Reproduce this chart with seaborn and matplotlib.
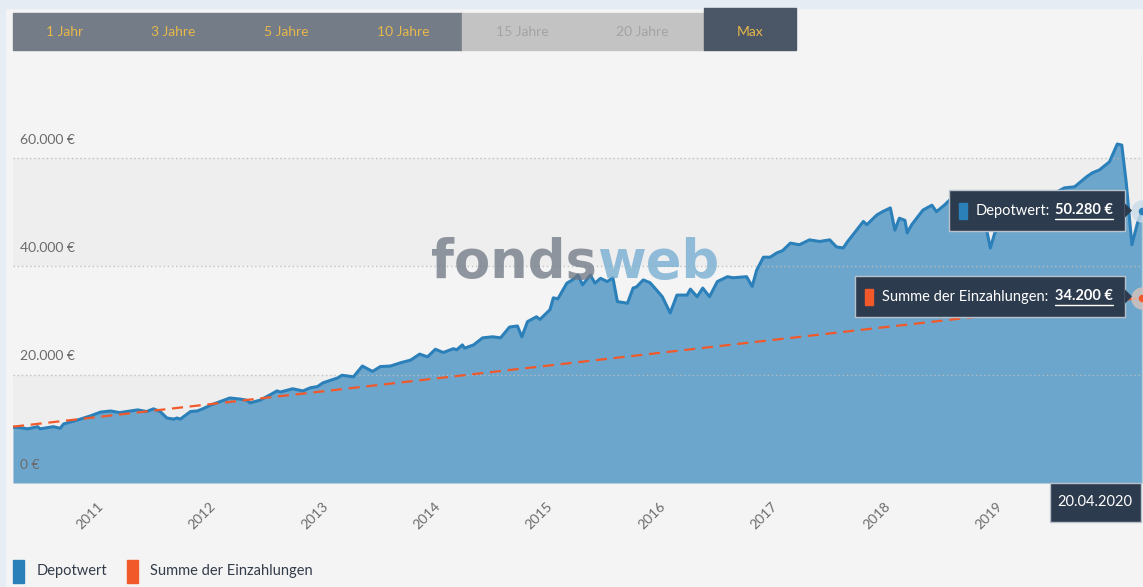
import numpy as np
import pandas as pd
import matplotlib
matplotlib.use("Agg")
import matplotlib.pyplot as plt
import seaborn as sns
from matplotlib.patches import Rectangle, Polygon
from matplotlib.lines import Line2D

# Depotwert (Zeit als Dezimaljahr, Wert in €)
jahr = [2010.25, 2010.32, 2010.38, 2010.47, 2010.49, 2010.61, 2010.67, 2010.70, 2010.82, 2010.94,
        2011.03, 2011.12, 2011.20, 2011.36, 2011.44, 2011.50, 2011.56, 2011.62, 2011.68, 2011.71,
        2011.74, 2011.83, 2011.89, 2011.94, 2012.01, 2012.09, 2012.18, 2012.27, 2012.33, 2012.36,
        2012.45, 2012.54, 2012.60, 2012.63, 2012.74, 2012.83, 2012.90, 2012.96, 2013.01, 2013.14,
        2013.18, 2013.28, 2013.36, 2013.45, 2013.52, 2013.61, 2013.70, 2013.79, 2013.87, 2013.94,
        2014.01, 2014.08, 2014.17, 2014.20, 2014.25, 2014.27, 2014.35, 2014.43, 2014.52, 2014.59,
        2014.67, 2014.74, 2014.78, 2014.83, 2014.91, 2014.94, 2015.03, 2015.06, 2015.10, 2015.18,
        2015.23, 2015.28, 2015.32, 2015.39, 2015.43, 2015.48, 2015.54, 2015.59, 2015.63, 2015.72,
        2015.77, 2015.80, 2015.86, 2015.92, 2015.98, 2016.03, 2016.10, 2016.16, 2016.25, 2016.28,
        2016.34, 2016.39, 2016.45, 2016.52, 2016.61, 2016.66, 2016.72, 2016.78, 2016.83, 2016.87,
        2016.93, 2016.99, 2017.05, 2017.10, 2017.17, 2017.25, 2017.34, 2017.43, 2017.52, 2017.58,
        2017.64, 2017.68, 2017.76, 2017.82, 2017.85, 2017.94, 2017.99, 2018.06, 2018.10, 2018.14,
        2018.19, 2018.21, 2018.25, 2018.35, 2018.43, 2018.47, 2018.54, 2018.59, 2018.68, 2018.77,
        2018.86, 2018.90, 2018.95, 2018.99, 2019.08, 2019.17, 2019.26, 2019.35, 2019.43, 2019.52,
        2019.61, 2019.70, 2019.81, 2019.86, 2019.92, 2020.01, 2020.08, 2020.12, 2020.16, 2020.21,
        2020.26, 2020.30]
depotwert = [10300, 10200, 10000, 10400, 10000, 10400, 10100, 10900, 11600, 12400,
             13100, 13300, 13000, 13500, 13200, 13700, 13200, 12000, 11800, 12000,
             11800, 13200, 13300, 13700, 14400, 15000, 15700, 15500, 15300, 14800,
             15300, 16300, 17000, 16800, 17400, 17000, 17600, 17800, 18500, 19400,
             19900, 19600, 21600, 20600, 21500, 21600, 22200, 22700, 23800, 23300,
             24700, 24100, 24800, 24600, 25500, 24900, 25500, 26800, 27000, 26800,
             28800, 29000, 27000, 29800, 30700, 30200, 32000, 34200, 34000, 36900,
             37500, 38400, 36600, 38400, 36900, 37800, 37200, 37900, 33500, 33200,
             36000, 36200, 37500, 37000, 35600, 34400, 31400, 34700, 34700, 35800,
             34400, 36000, 34400, 37200, 38100, 37900, 38000, 38100, 36300, 39300,
             41700, 41700, 42500, 42900, 44300, 44000, 44900, 44600, 44900, 43600,
             43400, 44600, 46700, 48300, 47700, 49500, 50100, 50800, 46700, 48900,
             48500, 46200, 47700, 50400, 51300, 50100, 51300, 52300, 52000, 52500,
             51000, 48500, 43400, 46200, 48500, 50000, 51000, 51500, 52500, 53500,
             54500, 54700, 56600, 57300, 57800, 59300, 62600, 62400, 55400, 44000,
             48000, 50280]

# Summe der Einzahlungen
einzahl_jahr = [2010.25, 2011.25, 2012.25, 2013.25, 2014.25, 2015.25, 2016.25,
                2017.25, 2018.25, 2019.25, 2020.30]
einzahlungen = [10400, 12770, 15140, 17500, 19870, 22240, 24610,
                26980, 29340, 31710, 34200]

y_ticks = [0, 20000, 40000, 60000]
y_labels = ["0 €", "20.000 €", "40.000 €", "60.000 €"]
x_ticks = [2011, 2012, 2013, 2014, 2015, 2016, 2017, 2018, 2019]
zeitraum = ["1 Jahr", "3 Jahre", "5 Jahre", "10 Jahre", "15 Jahre", "20 Jahre", "Max"]
datum = "20.04.2020"
depot_text = "50.280 €"
summe_text = "34.200 €"

BLAU = "#2b80ba"
FLAECHE = "#6ca6cc"
ORANGE = "#f2592a"
DUNKEL = "#2d3b4e"

sns.set_style("white")
plt.rcParams["font.family"] = ["Lato", "DejaVu Sans"]

W, H = 1143, 587
fig = plt.figure(figsize=(W / 100, H / 100), dpi=100)
fig.patch.set_facecolor("#f4f4f4")


def px(x, y):
    return x / W, 1 - y / H


# Rahmen oben/links
fig.add_artist(Rectangle((0, 1 - 8 / H), 1, 8 / H, transform=fig.transFigure,
                         color="#e6ecf4", zorder=0))
fig.add_artist(Rectangle((0, 0), 5 / W, 1, transform=fig.transFigure,
                         color="#e6ecf4", zorder=0))

ax = fig.add_axes([13 / W, 104 / H, 1129 / W, 428 / H])
ax.set_facecolor("#f4f4f4")
ax.set_xlim(jahr[0], jahr[-1])
ax.set_ylim(0, 428 / 108.3 * 20000)

ax.axhspan(0, 20000, color="#eeeeee", zorder=0, lw=0)
ax.axhspan(40000, 60000, color="#eeeeee", zorder=0, lw=0)

ax.fill_between(jahr, depotwert, color=FLAECHE, zorder=2, lw=0)
for v in y_ticks:
    ax.axhline(v, color="#bdbdbd", lw=1, ls=(0, (1, 2)), zorder=3, alpha=0.9)
ax.axvline(jahr[-1], color="#d2d2d2", lw=1, zorder=3)

sns.lineplot(x=jahr, y=depotwert, ax=ax, color=BLAU, lw=2.2, zorder=4)
sns.lineplot(x=einzahl_jahr, y=einzahlungen, ax=ax, color=ORANGE, lw=1.6, zorder=5)
ax.lines[-1].set_linestyle((0, (5, 3)))

# Hover-Punkte am Ende
ax.scatter([jahr[-1]], [depotwert[-1]], s=260, color="#c9dcea", alpha=0.8, zorder=6, clip_on=False, lw=0)
ax.scatter([jahr[-1]], [depotwert[-1]], s=30, color=BLAU, zorder=7, clip_on=False, lw=0)
ax.scatter([einzahl_jahr[-1]], [einzahlungen[-1]], s=260, color="#d9c3bb", alpha=0.8, zorder=6, clip_on=False, lw=0)
ax.scatter([einzahl_jahr[-1]], [einzahlungen[-1]], s=30, color=ORANGE, zorder=7, clip_on=False, lw=0)

for v, lab in zip(y_ticks, y_labels):
    ax.text(7 / 1129, v + 3400, lab, transform=ax.get_yaxis_transform(),
            fontsize=10, color="#6b6b6b", va="center", ha="left", zorder=8)

ax.set_yticks([])
ax.set_xticks(x_ticks)
ax.set_xticklabels([str(j) for j in x_ticks], rotation=45, ha="right", rotation_mode="anchor")
ax.tick_params(axis="x", length=9, width=1.5, color="#8a8a8a", pad=3,
               labelsize=10, labelcolor="#6b6b6b")
for s in ax.spines.values():
    s.set_visible(False)
ax.set_xlabel("")
ax.set_ylabel("")

# Wasserzeichen
fx, fy = px(597, 278)
fig.text(fx, fy, "fonds", ha="right", va="baseline", fontsize=38, fontweight="bold",
         family="DejaVu Sans", color="#6e7682", alpha=0.75, zorder=9)
fig.text(fx, fy, "web", ha="left", va="baseline", fontsize=38, fontweight="bold",
         family="DejaVu Sans", color="#71abd1", alpha=0.75, zorder=9)

# Zeitraum-Buttons
fig.add_artist(Rectangle(px(13, 50), 449 / W, 37 / H, transform=fig.transFigure, color="#737c87"))
fig.add_artist(Rectangle(px(462, 50), 242 / W, 37 / H, transform=fig.transFigure, color="#c3c3c3"))
fig.add_artist(Rectangle(px(704, 50), 92 / W, 42 / H, transform=fig.transFigure, color="#4b5666"))
btn_x = [65, 173, 286, 403, 522, 642, 750]
for bx, lab in zip(btn_x, zeitraum):
    farbe = "#a3a3a3" if lab in ("15 Jahre", "20 Jahre") else "#e8b84a"
    fig.text(*px(bx, 32), lab, ha="center", va="center", fontsize=10, color=farbe)


# Tooltips
def tooltip(x0, y0, x1, y1, farbe, label, wert):
    fig.add_artist(Rectangle(px(x0, y1), (x1 - x0) / W, (y1 - y0) / H, transform=fig.transFigure,
                             facecolor=DUNKEL, edgecolor="#b9c1ca", lw=1, zorder=10))
    ym = (y0 + y1) / 2
    fig.add_artist(Polygon([px(x1, ym - 7), px(x1 + 7, ym), px(x1, ym + 7)], closed=True,
                           transform=fig.transFigure, facecolor=DUNKEL, edgecolor="none", zorder=10))
    fig.add_artist(Rectangle(px(x0 + 10, ym + 8), 8 / W, 16 / H, transform=fig.transFigure,
                             color=farbe, zorder=11))
    fig.text(*px(x0 + 27, ym), label, ha="left", va="center", fontsize=10.5,
             color="white", zorder=11)
    t = fig.text(*px(x1 - 12, ym), wert, ha="right", va="center", fontsize=10.5,
                 fontweight="bold", color="white", zorder=11)
    return t


t1 = tooltip(949, 190, 1125, 231, BLAU, "Depotwert:", depot_text)
t2 = tooltip(855, 276, 1125, 317, ORANGE, "Summe der Einzahlungen:", summe_text)

# Datum
fig.add_artist(Rectangle(px(1050, 522), 91 / W, 39 / H, transform=fig.transFigure,
                         facecolor=DUNKEL, edgecolor="#b9c1ca", lw=1, zorder=10))
fig.text(*px(1095, 502), datum, ha="center", va="center", fontsize=10.5, color="white", zorder=11)

# Legende
fig.add_artist(Rectangle(px(13, 583), 11 / W, 23 / H, transform=fig.transFigure, color=BLAU))
fig.text(*px(37, 571), "Depotwert", ha="left", va="center", fontsize=10.5, color="#333d4a")
fig.add_artist(Rectangle(px(127, 583), 11 / W, 23 / H, transform=fig.transFigure, color=ORANGE))
fig.text(*px(150, 571), "Summe der Einzahlungen", ha="left", va="center", fontsize=10.5, color="#333d4a")

# Unterstreichung der Werte
fig.canvas.draw()
inv = fig.transFigure.inverted()
for t in (t1, t2):
    bb = t.get_window_extent()
    (a, b), (c, d) = inv.transform([(bb.x0, bb.y0 - 1), (bb.x1, bb.y0 - 1)])
    fig.add_artist(Line2D([a, c], [b, d], transform=fig.transFigure, color="white", lw=1, zorder=12))

fig.savefig("out.png", dpi=100, facecolor=fig.get_facecolor())
